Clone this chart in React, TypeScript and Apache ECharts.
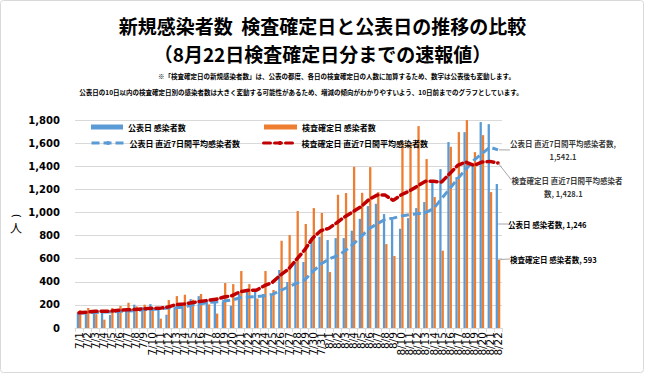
import React, { useEffect, useRef } from "react";
import * as echarts from "echarts";

const dates = [
  "7/1","7/2","7/3","7/4","7/5","7/6","7/7","7/8","7/9","7/10",
  "7/11","7/12","7/13","7/14","7/15","7/16","7/17","7/18","7/19","7/20",
  "7/21","7/22","7/23","7/24","7/25","7/26","7/27","7/28","7/29","7/30","7/31",
  "8/1","8/2","8/3","8/4","8/5","8/6","8/7","8/8","8/9","8/10",
  "8/11","8/12","8/13","8/14","8/15","8/16","8/17","8/18","8/19","8/20","8/21","8/22",
];

// 公表日 感染者数
const pubCases = [
  135,120,155,135,112,153,153,202,181,207,
  170,115,179,193,250,276,245,225,228,193,
  294,337,314,294,280,502,398,571,571,755,790,
  761,778,778,842,945,1055,1075,986,940,859,
  951,1038,1090,1257,1375,1609,1306,1695,1407,1782,1764,1246,
];

// 検査確定日 感染者数
const testCases = [
  155,173,120,72,173,190,219,187,202,155,
  81,242,276,288,245,294,204,125,389,380,
  493,380,255,493,329,755,804,1012,900,1038,995,
  484,1153,1168,1395,1170,1392,1176,726,623,1609,
  1603,1747,1462,1133,669,1568,1695,1799,1522,1669,1176,593,
];

// 公表日 直近7日間平均感染者数
const pubAvg = [
  127,132,135,138,138,144,147,150,158,161,
  164,173,176,181,199,207,222,225,233,242,
  262,268,271,280,291,323,357,386,415,487,551,
  597,625,666,723,790,859,902,940,951,969,
  980,989,998,1032,1119,1205,1292,1372,1450,1508,1565,1542.1,
];

// 検査確定日 直近7日間平均感染者数
const testAvg = [
  132,138,144,144,147,153,158,161,167,170,
  170,181,202,207,219,230,239,248,268,280,
  314,326,326,366,395,458,510,594,675,778,842,
  862,911,963,1006,1050,1113,1150,1150,1104,1153,
  1185,1228,1269,1269,1263,1335,1407,1436,1407,1436,1442,1428.1,
];

const yTicks = [0, 200, 400, 600, 800, 1000, 1200, 1400, 1600, 1800];

const names = [
  "公表日 感染者数",
  "検査確定日 感染者数",
  "公表日 直近7日間平均感染者数",
  "検査確定日 直近7日間平均感染者数",
];

const JP = "'Noto Sans CJK JP', 'Noto Sans', sans-serif";
const fmt0 = (v: number) => v.toLocaleString("en-US");
const fmt1 = (v: number) =>
  v.toLocaleString("en-US", { minimumFractionDigits: 1, maximumFractionDigits: 1 });

const lastOnly = (arr: number[]) =>
  arr.map((v, i) => (i === arr.length - 1 ? { value: v, label: { show: true } } : v));
const lastPoint = (arr: number[]) =>
  arr.map((v, i) => (i === arr.length - 1 ? v : null));

const labelBase = {
  show: false,
  fontSize: 7.5,
  fontWeight: "bold" as const,
  color: "#000",
  fontFamily: JP,
  lineHeight: 13,
};
const leader = { show: true, lineStyle: { color: "#a6a6a6", width: 1 } };

export default function App() {
  const ref = useRef<HTMLDivElement>(null);
  useEffect(() => {
    document.body.style.margin = "0";
    const chart = echarts.init(ref.current!, null, { renderer: "svg" });
    const legendText = {
      fontSize: 8,
      fontWeight: "bold" as const,
      color: "#000",
      fontFamily: JP,
      lineHeight: 10,
    };
    const center = {
      align: "center",
      verticalAlign: "middle",
      textAlign: "center",
      textVerticalAlign: "middle",
    };
    const hiddenPoint = {
      type: "scatter",
      symbolSize: 2,
      itemStyle: { color: "rgba(0,0,0,0)" },
      silent: true,
      z: 5,
    };
    const option: any = {
      animation: false,
      backgroundColor: "#fff",
      grid: { left: 75, right: 143, top: 120, bottom: 47, containLabel: false },
      legend: [
        {
          data: [names[0]], left: 91, top: 122, padding: 0, icon: "rect",
          itemWidth: 32, itemHeight: 5, textStyle: legendText,
        },
        {
          data: [names[1]], left: 264, top: 122, padding: 0, icon: "rect",
          itemWidth: 33, itemHeight: 5, textStyle: legendText,
        },
        {
          data: [names[2]], left: 90, top: 138, padding: 0,
          itemWidth: 33, itemHeight: 5, textStyle: legendText,
          lineStyle: { width: 3, type: [8, 4] },
        },
        {
          data: [names[3]], left: 262, top: 138, padding: 0,
          itemWidth: 33, itemHeight: 5, textStyle: legendText,
          lineStyle: { width: 3, type: [7, 4] },
        },
      ],
      xAxis: {
        type: "category",
        data: dates,
        axisLine: { lineStyle: { color: "#d9d9d9" } },
        axisTick: { show: true, length: 4, lineStyle: { color: "#d9d9d9" } },
        axisLabel: {
          interval: 0,
          rotate: 90,
          fontSize: 10.5,
          color: "#000",
          fontFamily: "'DejaVu Sans', sans-serif",
          margin: 4,
        },
      },
      yAxis: {
        type: "value",
        min: 0,
        max: yTicks[yTicks.length - 1],
        interval: yTicks[1] - yTicks[0],
        axisLine: { show: false },
        axisTick: { show: false },
        axisLabel: {
          formatter: (v: number) => fmt0(v),
          fontSize: 10,
          fontWeight: "bold",
          color: "#000",
          fontFamily: "'DejaVu Sans', sans-serif",
          margin: 15,
        },
        splitLine: { lineStyle: { color: "#d9d9d9", width: 1 } },
      },
      series: [
        {
          name: names[0],
          type: "bar",
          data: lastOnly(pubCases),
          barGap: "0%",
          barCategoryGap: "43%",
          itemStyle: { color: "#5b9bd5" },
          label: { ...labelBase, formatter: (p: any) => `${names[0]}, ${fmt0(p.value)}` },
          labelLine: leader,
          labelLayout: () => ({ x: 508, y: 224, align: "left", verticalAlign: "middle" }),
          z: 2,
        },
        {
          name: names[1],
          type: "bar",
          data: lastOnly(testCases),
          barGap: "0%",
          barCategoryGap: "43%",
          itemStyle: { color: "#ed7d31" },
          label: { ...labelBase, formatter: (p: any) => `${names[1]}, ${fmt0(p.value)}` },
          labelLine: leader,
          labelLayout: () => ({ x: 510, y: 259, align: "left", verticalAlign: "middle" }),
          z: 2,
        },
        {
          name: names[2],
          type: "line",
          data: pubAvg,
          symbol: "none",
          lineStyle: { color: "#5b9bd5", width: 3, type: [8, 4] },
          itemStyle: { color: "#5b9bd5" },
          z: 3,
        },
        {
          name: names[3],
          type: "line",
          data: testAvg,
          symbol: "none",
          lineStyle: { color: "#c00000", width: 3.5, type: [7, 4], cap: "round" },
          itemStyle: { color: "#c00000" },
          z: 4,
        },
        {
          ...hiddenPoint,
          name: "pubAvgLabel",
          data: lastPoint(pubAvg),
          label: {
            ...labelBase,
            show: true,
            align: "center",
            formatter: (p: any) => `${names[2]},\n${fmt1(p.value)}`,
          },
          labelLine: leader,
          labelLayout: () => ({ x: 563, y: 150, align: "center", verticalAlign: "middle" }),
        },
        {
          ...hiddenPoint,
          name: "testAvgLabel",
          data: lastPoint(testAvg),
          label: {
            ...labelBase,
            show: true,
            formatter: () => "検査確定日 直近7日間平均感染者",
          },
          labelLine: leader,
          labelLayout: () => ({ x: 567, y: 180, align: "center", verticalAlign: "middle" }),
        },
        {
          ...hiddenPoint,
          name: "testAvgValue",
          data: lastPoint(testAvg),
          label: {
            ...labelBase,
            show: true,
            align: "left",
            formatter: (p: any) => `数, ${fmt1(p.value)}`,
          },
          labelLayout: () => ({ x: 544, y: 193, align: "left", verticalAlign: "middle" }),
        },
      ],
      graphic: [
        {
          type: "rect",
          silent: true,
          z: -10,
          shape: { x: 0.5, y: 0.5, width: 643, height: 372, r: 3 },
          style: { fill: "none", stroke: "#d9d9d9", lineWidth: 1 },
        },
        {
          type: "text",
          x: 322.5,
          y: 25,
          style: {
            text: "新規感染者数  検査確定日と公表日の推移の比較",
            fontSize: 19,
            fontWeight: "bold",
            fontFamily: JP,
            fill: "#000",
            ...center,
          },
        },
        {
          type: "text",
          x: 322.5,
          y: 53,
          style: {
            text: "（8月22日検査確定日分までの速報値）",
            fontSize: 19,
            fontWeight: "bold",
            fontFamily: JP,
            fill: "#000",
            ...center,
          },
        },
        {
          type: "text",
          x: 336.5,
          y: 76,
          style: {
            text: "※「検査確定日の新規感染者数」は、公表の都度、各日の検査確定日の人数に加算するため、数字は公表後も変動します。",
            fontSize: 6.5,
            fontWeight: "bold",
            fontFamily: JP,
            fill: "#000",
            ...center,
          },
        },
        {
          type: "text",
          x: 301,
          y: 92,
          style: {
            text: "公表日の10日以内の検査確定日別の感染者数は大きく変動する可能性があるため、増減の傾向がわかりやすいよう、10日前までのグラフとしています。",
            fontSize: 6.5,
            fontWeight: "bold",
            fontFamily: JP,
            fill: "#000",
            ...center,
          },
        },
        {
          type: "text",
          x: 16,
          y: 216,
          rotation: -Math.PI / 2,
          style: {
            text: "(",
            fontSize: 11,
            fontFamily: "'DejaVu Sans', sans-serif",
            fill: "#000",
            ...center,
          },
        },
        {
          type: "text",
          x: 16,
          y: 227,
          style: {
            text: "人",
            fontSize: 12,
            fontFamily: JP,
            fill: "#000",
            ...center,
          },
        },
      ],
    };
    chart.setOption(option);
    return () => chart.dispose();
  }, []);
  return <div ref={ref} style={{ width: 645, height: 375 }} />;
}
